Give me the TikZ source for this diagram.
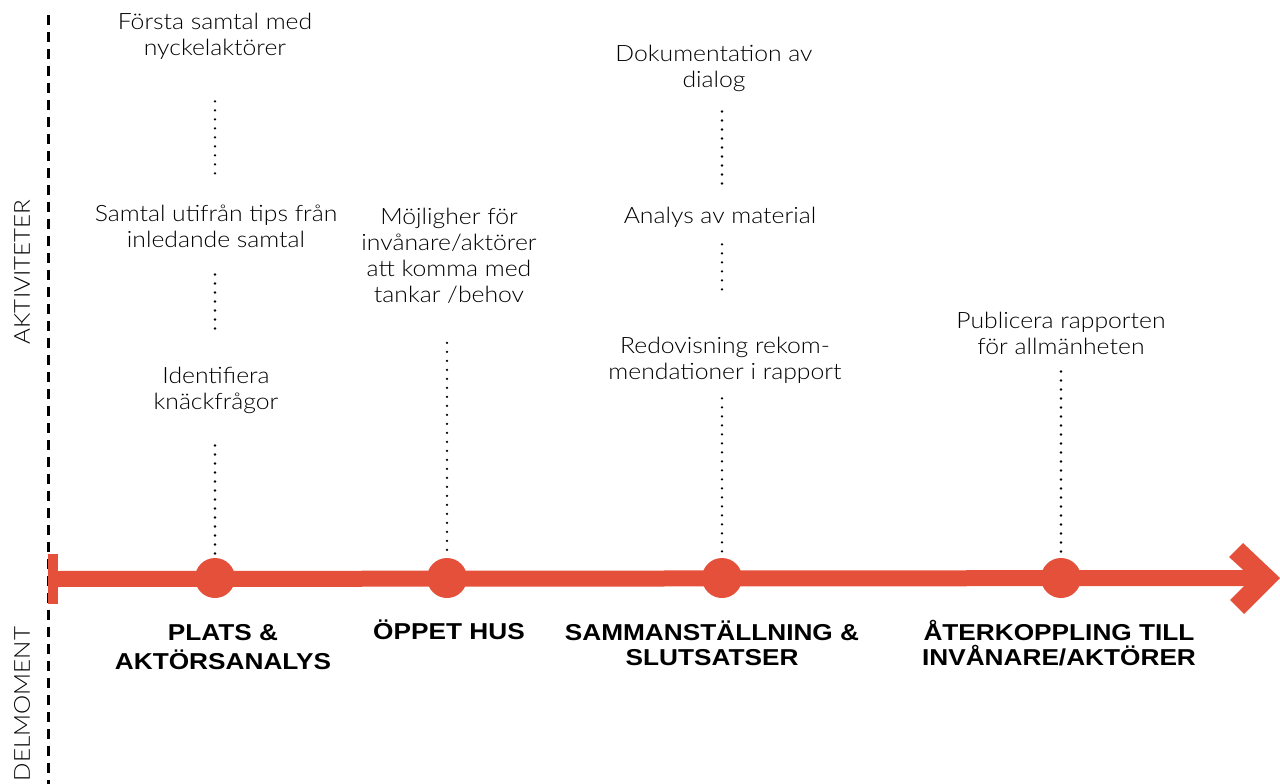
\documentclass[tikz,border=0pt]{standalone}
\usepackage{fontspec}
\setmainfont{Lato Light}[FakeStretch=1.1]
\newfontfamily\headfont{Liberation Sans}[FakeStretch=1.14]
\usepackage{tikz}
\definecolor{tlred}{HTML}{E4503A}

\begin{document}
\begin{tikzpicture}[x=1pt,y=-1pt,every node/.style={align=center,inner sep=0pt},
        act/.style={font=\fontsize{22.5}{26}\selectfont},
        phase/.style={font=\headfont\bfseries\fontsize{23}{25}\selectfont},
        side/.style={font=\fontsize{22}{26}\selectfont,rotate=90},
        milestone/.style={shape=circle,fill=tlred,minimum size=40pt},
        link/.style={line width=2.6pt,dash pattern=on 0pt off 9pt,line cap=round},
        axis/.style={line width=3pt,dash pattern=on 10pt off 7pt},
        timeline/.style={draw=tlred,line width=16pt}]
        \useasboundingbox (0,0) rectangle (1280,784);
        % vertical axis and its labels
        \coordinate (axtop) at (48,15);
        \coordinate (axbot) at (48,784);
        \draw[axis] (axtop) -- (axbot);
        \node[side] (aktiviteter) at (22,272) {AKTIVITETER};
        \node[side] (delmoment) at (22,704) {DELMOMENT};
        % timeline
        \node[fill=tlred,minimum width=10pt,minimum height=50pt] (start) at (53,579) {};
        \coordinate (tip) at (1262,578);
        \draw[timeline] (start.center) -- (tip);
        \fill[tlred] (1243,543) -- (1280,578) -- (1244,614) -- (1230,600) -- (1252,578) -- (1229,557) -- cycle;
        \node[milestone] (p1) at (215,578) {};
        \node[milestone] (p2) at (447,578) {};
        \node[milestone] (p3) at (722,578) {};
        \node[milestone] (p4) at (1061,578) {};
        % activities
        \node[act] (t1) at (215,36) {Första samtal med\\nyckelaktörer};
        \node[act] (t2) at (216,226) {Samtal utifrån tips från\\inledande samtal};
        \node[act] (t3) at (216,390) {Identifiera\\knäckfrågor};
        \node[act] (t4) at (449,256) {Möjligher för\\invånare/aktörer\\att komma med\\tankar /behov};
        \node[act] (t5) at (714,68) {Dokumentation av\\dialog};
        \node[act] (t6) at (720,217) {Analys av material};
        \node[act] (t7) at (725,360) {Redovisning rekom-\\mendationer i rapport};
        \node[act] (t8) at (1061,333) {Publicera rapporten\\för allmänheten};
        \draw[link,shorten <=42pt,shorten >=28pt] (t1.south -| p1) -- (t2.north -| p1);
        \draw[link,shorten <=27pt,shorten >=34pt] (t2.south -| p1) -- (t3.north -| p1);
        \draw[link,shorten <=32pt,shorten >=3pt] (t3.south -| p1) -- (p1);
        \draw[link,shorten <=39pt,shorten >=3pt] (t4.south -| p2) -- (p2);
        \draw[link,shorten <=20pt,shorten >=22pt] (t5.south -| p3) -- (t6.north -| p3);
        \draw[link,shorten <=17pt,shorten >=42pt] (t6.south -| p3) -- (t7.north -| p3);
        \draw[link,shorten <=15pt,shorten >=3pt] (t7.south -| p3) -- (p3);
        \draw[link,shorten <=17pt,shorten >=3pt] (t8.south -| p4) -- (p4);
        % phases
        \node[phase] (m1) at (223,647) {PLATS \&\\[4pt]AKTÖRSANALYS};
        \node[phase] (m2) at (449,630) {ÖPPET HUS};
        \node[phase] (m3) at (712,643) {SAMMANSTÄLLNING \&\\SLUTSATSER};
        \node[phase] (m4) at (1059,643) {ÅTERKOPPLING TILL\\INVÅNARE/AKTÖRER};
\end{tikzpicture}
\end{document}
